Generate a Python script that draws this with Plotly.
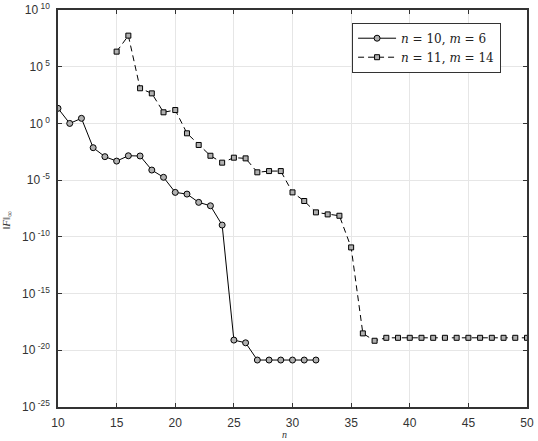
import plotly.graph_objects as go

# Series 1: n = 10, m = 6
n1 = list(range(10, 33))
logF1 = [1.33, 0.0, 0.45, -2.14, -2.93, -3.32, -2.85, -2.87, -4.11, -4.75,
         -6.08, -6.23, -6.96, -7.26, -8.96, -19.1, -19.34,
         -20.86, -20.86, -20.86, -20.86, -20.86, -20.86]

# Series 2: n = 11, m = 14
n2 = list(range(15, 51))
logF2 = [6.33, 7.74, 3.1, 2.65, 0.98, 1.18, -0.87, -1.9, -2.85, -3.46,
         -3.02, -3.08, -4.31, -4.2, -4.2, -6.08, -6.84, -7.84, -8.02, -8.14,
         -10.93, -18.51, -19.16] + [-18.9] * 13

y1 = [10 ** v for v in logF1]
y2 = [10 ** v for v in logF2]

exps = [10, 5, 0, -5, -10, -15, -20, -25]
ytick_vals = [10.0 ** e for e in exps]
ytick_text = [f"10<sup> {e}</sup>" for e in exps]
xticks = [10, 15, 20, 25, 30, 35, 40, 45, 50]

fig = go.Figure()
fig.add_trace(go.Scatter(
    x=n1, y=y1, mode="lines+markers",
    name="<i>n</i> = 10, <i>m</i> = 6",
    line=dict(color="black", width=1),
    marker=dict(symbol="circle", size=6, color="#b0b0b0",
                line=dict(color="black", width=1)),
))
fig.add_trace(go.Scatter(
    x=n2, y=y2, mode="lines+markers",
    name="<i>n</i> = 11, <i>m</i> = 14",
    line=dict(color="black", width=1, dash="6px,4px"),
    marker=dict(symbol="square", size=5, color="#b0b0b0",
                line=dict(color="black", width=1)),
))

axis_common = dict(
    showline=True, linecolor="#333333", linewidth=1.5, mirror="ticks",
    ticks="inside", ticklen=4, tickcolor="#333333",
    showgrid=True, gridcolor="#e6e6e6", gridwidth=1,
    zeroline=False, automargin=False,
    tickfont=dict(family="Liberation Sans", size=12, color="#333333"),
)

fig.update_xaxes(range=[10, 50], tickvals=xticks, ticklabelstandoff=4,
                 **axis_common)
fig.update_yaxes(type="log", range=[-25, 10], tickvals=ytick_vals, ticktext=ytick_text,
                 ticklabelstandoff=4,
                 **axis_common)

fig.add_annotation(text="<i>n</i>", xref="paper", yref="paper",
                   x=0.483, y=-0.07, xanchor="center", yanchor="middle",
                   showarrow=False,
                   font=dict(family="Liberation Serif", size=10, color="#333333"))
fig.add_annotation(text="‖<i>F</i>‖<sub>∞</sub>", xref="paper", yref="paper",
                   x=-0.108, y=0.47, xanchor="center", yanchor="middle",
                   textangle=-90, showarrow=False,
                   font=dict(family="Liberation Serif", size=11, color="#333333"))

fig.update_layout(
    width=538, height=441,
    margin=dict(l=58, r=11, t=10, b=34),
    paper_bgcolor="white", plot_bgcolor="white",
    showlegend=True,
    legend=dict(x=0.627, y=0.968, xanchor="left", yanchor="top",
                bgcolor="white", bordercolor="#333333", borderwidth=1,
                font=dict(family="DejaVu Serif", size=12, color="#222222"),
                tracegroupgap=0, itemwidth=38),
)

fig.write_html("out.html")
